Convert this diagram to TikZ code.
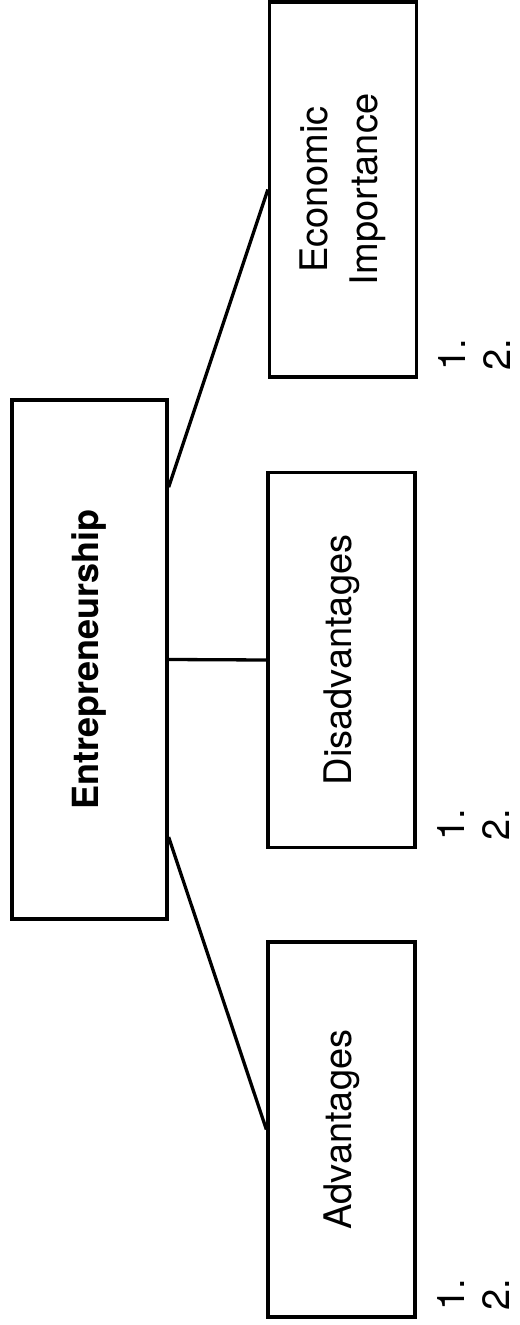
\documentclass[tikz,border=0pt]{standalone}
\usepackage{fontspec}
\setmainfont{TeX Gyre Heros}
\usepackage{tikz}
\usetikzlibrary{shapes, arrows, positioning, calc}
\tikzstyle{line} = [draw, line width = 1.65pt]
\tikzstyle{topic} = [rectangle, draw, line width = 1.65pt, rotate = 90, font = \bfseries\fontsize{18}{22}\selectfont, minimum width = 259.5pt, minimum height = 77.5pt]
\tikzstyle{block} = [rectangle, draw, line width = 1.65pt, rotate = 90, align = center, font = \fontsize{19}{25}\selectfont, minimum width = 187.5pt, minimum height = 73.5pt]
\tikzstyle{items} = [rotate = 90, align = left, inner sep = 0pt, anchor = north west, font = \fontsize{19}{22.5}\selectfont]

\begin{document}
\begin{tikzpicture}[x = 0.5pt, y = -0.5pt]
			\useasboundingbox (0, 0) rectangle (519, 1325);
			% Place nodes
			\node [topic] (entre) at (89.5, 659.5) {Entrepreneurship};
			\node [block] (econ) at (343, 189.5) {Economic\\Importance};
			\node [block] (disadv) at (341.5, 660) {Disadvantages};
			\node [block] (adv) at (341.5, 1129.5) {Advantages};
			\node [items] (econlist) at ($(econ.south west) + (20, -8)$) {1.\\2.};
			\node [items] (disadvlist) at ($(disadv.south west) + (20, -8)$) {1.\\2.};
			\node [items] (advlist) at ($(adv.south west) + (20, -8)$) {1.\\2.};
			% Draw edges
			\path [line] ($(entre.south east)!0.17!(entre.south west)$) -- (econ.north);
			\path [line] (entre.south) -- (disadv.north);
			\path [line] ($(entre.south west)!0.16!(entre.south east)$) -- (adv.north);
		\end{tikzpicture}
\end{document}
